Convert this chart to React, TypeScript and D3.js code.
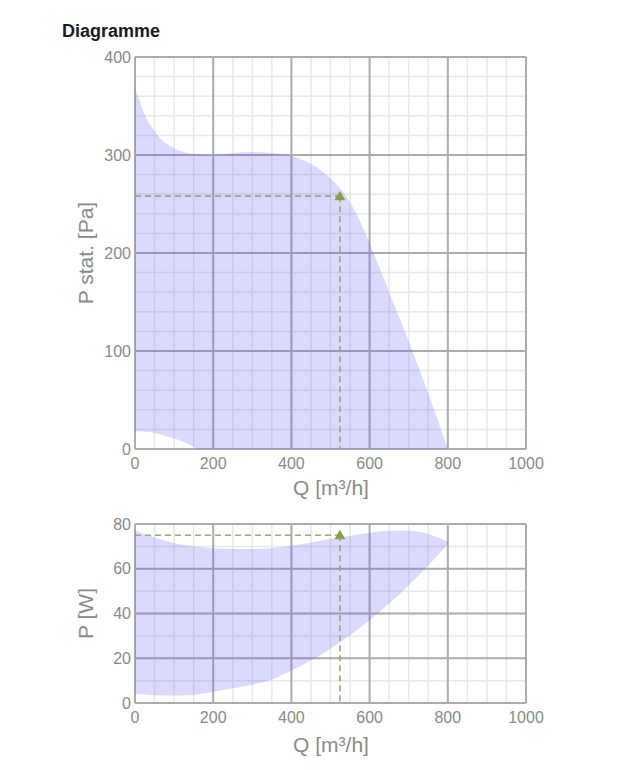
import React from "react";
import * as d3 from "d3";

// ---- data ----
const topUpperQ = [0, 12, 25, 50, 75, 100, 125, 150, 200, 250, 300, 350, 400, 450, 500, 540, 575, 605, 650, 700, 750, 800];
const topUpperP = [368, 355, 341, 324, 313, 307, 303, 301, 300, 302, 303, 302, 299, 291, 276, 258, 233, 205, 160, 110, 57, 0];
const topLowerQ = [0, 40, 80, 120, 145, 160];
const topLowerP = [18, 17, 13, 8, 3, 0];

const botUpperQ = [0, 50, 100, 150, 200, 250, 300, 350, 400, 450, 500, 550, 600, 650, 700, 750, 800];
const botUpperP = [77, 74, 71.5, 70, 69.2, 68.8, 68.8, 69.3, 70.3, 71.7, 73.4, 74.8, 76, 77, 77, 75.5, 72];
const botLowerQ = [0, 50, 100, 150, 200, 250, 300, 350, 400, 450, 500, 550, 600, 650, 700, 750, 800];
const botLowerP = [4, 3.5, 3.3, 3.6, 5, 6.6, 8.2, 10.5, 14.5, 19, 24.3, 30.3, 37, 44.5, 52.5, 61.5, 71];

const opQ = 524;
const opPtop = 258;
const opPbot = 75;

const xTicks = [0, 200, 400, 600, 800, 1000];
const topYTicks = [0, 100, 200, 300, 400];
const botYTicks = [0, 20, 40, 60, 80];

const FONT = "'Liberation Sans', Arial, Helvetica, sans-serif";
const FILL = "rgba(85,85,245,0.22)";
const MAJOR = "#acacac";
const MINOR = "#e8e8e8";
const DASH = "#9fa47c";
const MARK = "#8a9f48";
const TICK = "#8a8a8a";

type PanelProps = {
  top: number;
  bottom: number;
  yMax: number;
  yTicks: number[];
  yMinorStep: number;
  upperQ: number[];
  upperP: number[];
  lowerQ: number[];
  lowerP: number[];
  opP: number;
  yTitle: string;
  xTitleY: number;
};

function Panel(p: PanelProps) {
  const left = 135;
  const right = 526;
  const x = d3.scaleLinear().domain([0, 1000]).range([left, right]);
  const y = d3.scaleLinear().domain([0, p.yMax]).range([p.bottom, p.top]);

  const xMinor = d3.range(0, 1001, 50);
  const yMinor = d3.range(0, p.yMax + 0.001, p.yMinorStep);

  const area = d3
    .area<[number, number]>()
    .x((d) => x(d[0]))
    .y0(y(0))
    .y1((d) => y(d[1]))
    .curve(d3.curveMonotoneX);
  const up = p.upperQ.map((q, i) => [q, p.upperP[i]] as [number, number]);
  const lo = p.lowerQ.map((q, i) => [q, p.lowerP[i]] as [number, number]);
  const dPath = (area(up) || "") + (area(lo) || "");

  const tx = x(opQ);
  const ty = y(p.opP);
  const cy = (p.top + p.bottom) / 2;

  return (
    <g>
      {xMinor.map((v) => (
        <line key={"xm" + v} x1={x(v)} x2={x(v)} y1={p.top} y2={p.bottom} stroke={MINOR} strokeWidth={1.5} />
      ))}
      {yMinor.map((v) => (
        <line key={"ym" + v} x1={left} x2={right} y1={y(v)} y2={y(v)} stroke={MINOR} strokeWidth={1.5} />
      ))}
      {xTicks.map((v) => (
        <line key={"xM" + v} x1={x(v)} x2={x(v)} y1={p.top} y2={p.bottom} stroke={MAJOR} strokeWidth={2} />
      ))}
      {p.yTicks.map((v) => (
        <line key={"yM" + v} x1={left} x2={right} y1={y(v)} y2={y(v)} stroke={MAJOR} strokeWidth={2} />
      ))}
      <path d={dPath} fill={FILL} fillRule="evenodd" stroke="none" />
      <line x1={x(0)} x2={tx} y1={ty} y2={ty} stroke={DASH} strokeWidth={1.6} strokeDasharray="6,4" />
      <line x1={tx} x2={tx} y1={ty} y2={y(0)} stroke={DASH} strokeWidth={1.6} strokeDasharray="6,4" />
      <path d={`M${tx},${ty - 5.5} L${tx + 5.5},${ty + 4} L${tx - 5.5},${ty + 4} Z`} fill={MARK} />
      {xTicks.map((v) => (
        <text key={"xl" + v} x={x(v)} y={p.bottom + 19.5} textAnchor="middle" fontSize={16} fill={TICK} fontFamily={FONT}>
          {v}
        </text>
      ))}
      {p.yTicks.map((v) => (
        <text key={"yl" + v} x={131} y={y(v) + 5.7} textAnchor="end" fontSize={16} fill={TICK} fontFamily={FONT}>
          {v}
        </text>
      ))}
      <text x={331} y={p.xTitleY} textAnchor="middle" fontSize={21} fill={TICK} fontFamily={FONT}>
        Q [m³/h]
      </text>
      <text
        transform={`translate(93,${cy}) rotate(-90)`}
        textAnchor="middle"
        fontSize={21}
        fill={TICK}
        fontFamily={FONT}
      >
        {p.yTitle}
      </text>
    </g>
  );
}

export default function App() {
  return (
    <svg
      width={631}
      height={770}
      style={{ position: "absolute", left: 0, top: 0, background: "#fff" }}
    >
      <rect width={631} height={770} fill="#fff" />
      <text x={62} y={36.5} fontSize={18} fontWeight="bold" fill="#1a1a1a" fontFamily={FONT}>
        Diagramme
      </text>
      <Panel
        top={57}
        bottom={449}
        yMax={400}
        yTicks={topYTicks}
        yMinorStep={20}
        upperQ={topUpperQ}
        upperP={topUpperP}
        lowerQ={topLowerQ}
        lowerP={topLowerP}
        opP={opPtop}
        yTitle="P stat. [Pa]"
        xTitleY={495}
      />
      <Panel
        top={524}
        bottom={703}
        yMax={80}
        yTicks={botYTicks}
        yMinorStep={10}
        upperQ={botUpperQ}
        upperP={botUpperP}
        lowerQ={botLowerQ}
        lowerP={botLowerP}
        opP={opPbot}
        yTitle="P [W]"
        xTitleY={752}
      />
    </svg>
  );
}
